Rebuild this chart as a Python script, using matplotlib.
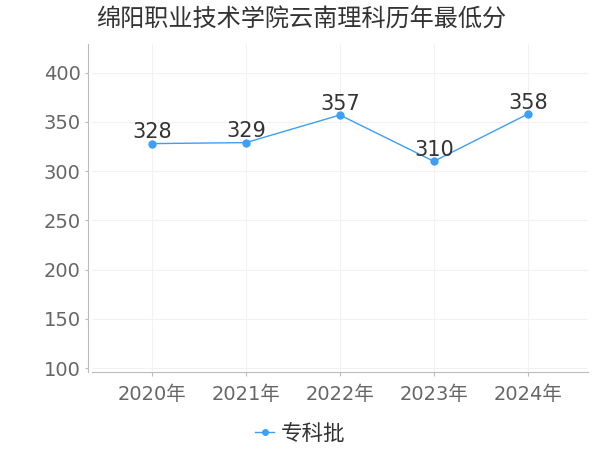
import matplotlib
matplotlib.use("Agg")
from matplotlib import pyplot as plt

plt.rcParams['font.family'] = ['DejaVu Sans', 'Noto Sans CJK SC']

years = ['2020年', '2021年', '2022年', '2023年', '2024年']
scores = [328, 329, 357, 310, 358]
series_name = '专科批'
title = '绵阳职业技术学院云南理科历年最低分'

line_color = '#3d9ff5'

fig = plt.figure(figsize=(6, 4.5), dpi=100)
ax = fig.add_axes([0.153, 0.173, 0.827, 0.729])

x = list(range(len(years)))
ax.plot(x, scores, color=line_color, linewidth=1, marker='o', markersize=5,
        label=series_name)
for xi, v in zip(x, scores):
    ax.annotate(str(v), (xi, v), xytext=(0, 1), textcoords='offset points',
                ha='center', va='bottom', fontsize=15, color='#333333')

ax.set_xlim(-0.64, len(years) - 1 + 0.64)
ax.set_ylim(96, 429)
ax.set_yticks([100, 150, 200, 250, 300, 350, 400])
ax.set_xticks(x)
ax.set_xticklabels(years)

ax.grid(True, color='#f2f2f2', linewidth=0.8)
ax.set_axisbelow(True)

for s in ['top', 'right']:
    ax.spines[s].set_visible(False)
ax.spines['left'].set_position(('outward', 3))
ax.spines['left'].set_color('#bbbbbb')
ax.spines['bottom'].set_color('#bbbbbb')
ax.tick_params(axis='both', colors='#bbbbbb', labelcolor='#666666',
               labelsize=14, length=2)
ax.tick_params(axis='x', pad=6, length=3)
ax.tick_params(axis='y', pad=3)

fig.text(0.160, 0.957, title, fontsize=17.4, color='#333333',
         family=['Noto Sans CJK SC'], va='center', ha='left')

leg = ax.legend(loc='center', bbox_to_anchor=(0.5, 0.036),
                bbox_transform=fig.transFigure, frameon=False, fontsize=15.5,
                handlelength=0.9, handletextpad=0.3, markerscale=0.8)
for t in leg.get_texts():
    t.set_color('#333333')
    t.set_family(['Noto Sans CJK SC'])

fig.savefig('out.png', dpi=100)
